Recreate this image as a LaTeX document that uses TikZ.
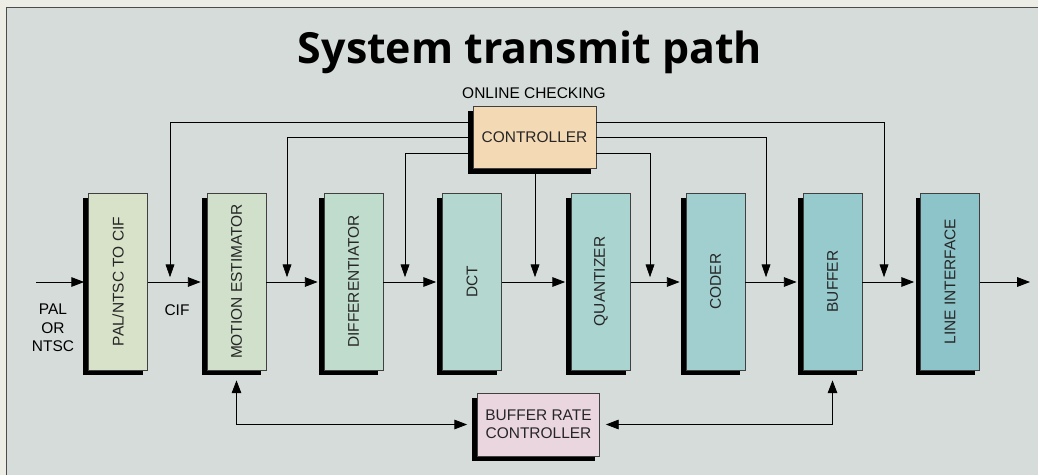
\documentclass[tikz,border=0pt]{standalone}
\usepackage{fontspec}
\usepackage{graphicx}
\setmainfont{Liberation Sans}
\newfontfamily\titlefont{Open Sans}
\usetikzlibrary{arrows.meta,shadows}

\definecolor{paper}{HTML}{EDEDE6}
\definecolor{panel}{HTML}{D5DCD9}
\definecolor{ctrlfill}{HTML}{F4D9B5}
\definecolor{brcfill}{HTML}{E9D6DF}
\definecolor{blkA}{HTML}{D8E2C8}
\definecolor{blkB}{HTML}{D0E0CA}
\definecolor{blkC}{HTML}{C0DCCD}
\definecolor{blkD}{HTML}{B4D8CF}
\definecolor{blkE}{HTML}{A9D4D0}
\definecolor{blkF}{HTML}{A1CFCF}
\definecolor{blkG}{HTML}{96CACC}
\definecolor{blkH}{HTML}{8CC4C9}

\begin{document}
\begin{tikzpicture}[
        x=0.025cm, y=-0.025cm,
        font=\fontsize{11}{13}\selectfont,
        shade box/.style={draw=black!75, line width=0.5pt, text=black!85,
            drop shadow={shadow xshift=-0.125cm, shadow yshift=-0.125cm, opacity=1, fill=black}},
        block/.style={shade box, minimum width=1.475cm, minimum height=4.425cm, inner sep=0pt},
        wide/.style={shade box, minimum width=3.075cm, minimum height=1.55cm, align=center},
        flow/.style={line width=0.6pt, -{Triangle[length=0.32cm, width=0.24cm]}, shorten >=0.15cm},
        drop/.style={line width=0.5pt, -{Triangle[length=0.32cm, width=0.22cm]}, shorten >=0.12cm},
        fb/.style={line width=0.6pt, {Triangle[length=0.32cm, width=0.24cm]}-{Triangle[length=0.32cm, width=0.24cm]},
            shorten <=0.25cm, shorten >=0.25cm}
    ]
    \useasboundingbox (0,0) rectangle (1038,475);

    % Paper and panel
    \fill[paper] (0,0) rectangle (1038,475);
    \fill[panel] (6,7) rectangle (1038,475);
    \draw[black!70, line width=0.6pt] (6,475) -- (6,7) -- (1038,7);

    % Title
    \node[anchor=base, font=\titlefont\bfseries\fontsize{30.5}{34}\selectfont] (title) at (530,63) {System transmit path};
    \node[anchor=base] (online) at (534,98) {ONLINE CHECKING};

    % Controller
    \node[wide, fill=ctrlfill] (ctrl) at (534.5,137.5) {CONTROLLER};

    % Processing chain
    \node[block, fill=blkA] (pal) at (118,281.5) {\rotatebox{90}{PAL/NTSC TO CIF}};
    \node[block, fill=blkB] (motion) at (236.5,281.5) {\rotatebox{90}{MOTION ESTIMATOR}};
    \node[block, fill=blkC] (diff) at (353.5,281.5) {\rotatebox{90}{DIFFERENTIATOR}};
    \node[block, fill=blkD] (dct) at (472,281.5) {\rotatebox{90}{DCT}};
    \node[block, fill=blkE] (quant) at (601,281.5) {\rotatebox{90}{QUANTIZER}};
    \node[block, fill=blkF] (coder) at (715.5,281.5) {\rotatebox{90}{CODER}};
    \node[block, fill=blkG] (buffer) at (832.5,281.5) {\rotatebox{90}{BUFFER}};
    \node[block, fill=blkH] (line) at (950,281.5) {\rotatebox{90}{LINE INTERFACE}};

    % Buffer rate controller
    \node[wide, fill=brcfill, minimum width=3.05cm, minimum height=1.575cm] (brc) at (538.5,424.5) {BUFFER RATE\\CONTROLLER};

    % Labels
    \node[align=center] (palin) at (53,328) {PAL\\OR\\NTSC};
    \node (cif) at (177,310) {CIF};

    % Free ends
    \coordinate (inp) at (36,282);
    \coordinate (outp) at (1030,282);
    \foreach \n/\x in {1/170, 2/287, 3/405, 4/535, 5/650, 6/766, 7/884}
        \coordinate (j\n) at (\x,282);

    % Main path
    \draw[flow, shorten >=0.1cm] (inp) -- (inp -| pal.west);
    \draw[flow] (pal.east |- inp) -- (motion.west |- inp);
    \draw[flow] (motion.east |- inp) -- (diff.west |- inp);
    \draw[flow] (diff.east |- inp) -- (dct.west |- inp);
    \draw[flow] (dct.east |- inp) -- (quant.west |- inp);
    \draw[flow] (quant.east |- inp) -- (coder.west |- inp);
    \draw[flow] (coder.east |- inp) -- (buffer.west |- inp);
    \draw[flow] (buffer.east |- inp) -- (line.west |- inp);
    \draw[flow, shorten >=0pt] (line.east |- inp) -- (outp);

    % Controller feeds
    \draw[drop] ([yshift=0.375cm]ctrl.west) -| (j1);
    \draw[drop] (ctrl.west) -| (j2);
    \draw[drop] ([yshift=-0.4cm]ctrl.west) -| (j3);
    \draw[drop] (ctrl.south -| j4) -- (j4);
    \draw[drop] ([yshift=-0.4cm]ctrl.east) -| (j5);
    \draw[drop] (ctrl.east) -| (j6);
    \draw[drop] ([yshift=0.375cm]ctrl.east) -| (j7);

    % Rate feedback
    \draw[fb] (motion.south) |- (brc.west);
    \draw[fb, shorten >=0.15cm] (buffer.south) |- (brc.east);
\end{tikzpicture}
\end{document}
